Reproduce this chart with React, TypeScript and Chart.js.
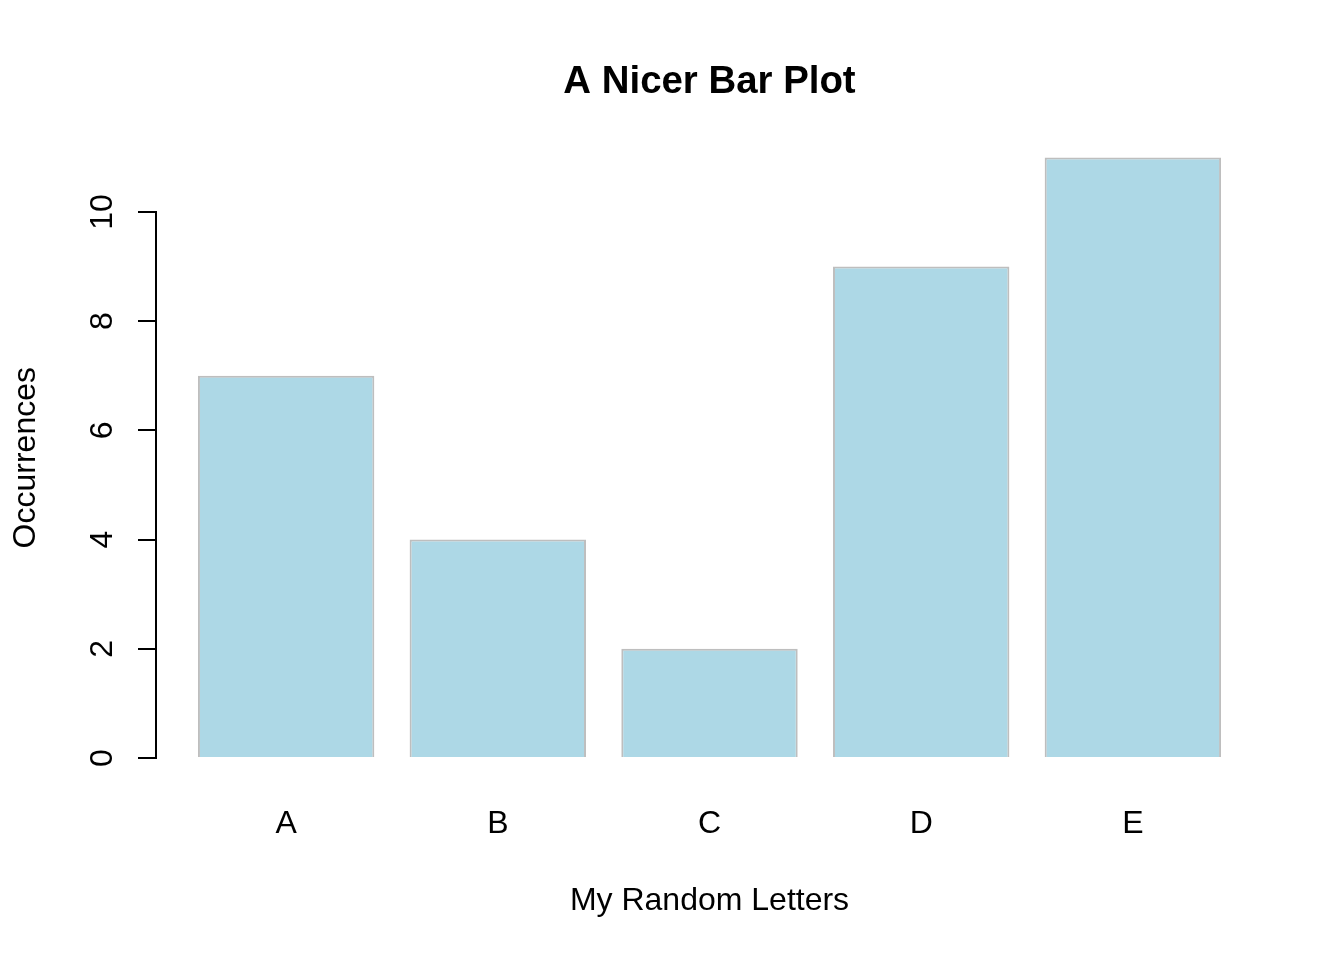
import React, { useEffect, useRef } from "react";
import { Chart, registerables } from "chart.js";

Chart.register(...registerables);

const chartTitle = "A Nicer Bar Plot";
const xAxisTitle = "My Random Letters";
const yAxisTitle = "Occurrences";
const categories = ["A", "B", "C", "D", "E"];
const occurrences = [7, 4, 2, 9, 11];
const yTickValues = [0, 2, 4, 6, 8, 10];

// R barplot layout: bar width 1, space 0.2, axes extended by 4%
const barWidth = 1;
const barSpace = 0.2;
const barCenters = categories.map((_, i) => barSpace + barWidth / 2 + i * (barWidth + barSpace));
const xLo = barSpace;
const xHi = barCenters[barCenters.length - 1] + barWidth / 2;
const xPad = (xHi - xLo) * 0.04;
const yLo = 0;
const yHi = Math.max(...occurrences);
const yPad = (yHi - yLo) * 0.04;

const FONT = "'Liberation Sans', Arial, sans-serif";

const rPlugin = {
  id: "rDecor",
  afterDraw(chart: any) {
    const { ctx, chartArea, scales } = chart;
    const y = scales.y;
    ctx.save();
    // main title
    ctx.fillStyle = "#000";
    ctx.font = `bold 38.4px ${FONT}`;
    ctx.textAlign = "center";
    ctx.textBaseline = "alphabetic";
    ctx.fillText(chartTitle, (chartArea.left + chartArea.right) / 2, chartArea.top - 40.5);
    // y axis line from first to last tick
    ctx.strokeStyle = "#000";
    ctx.lineWidth = 2;
    ctx.lineCap = "square";
    ctx.beginPath();
    const ax = Math.round(chartArea.left) - 1;
    ctx.moveTo(ax, y.getPixelForValue(yTickValues[0]));
    ctx.lineTo(ax, y.getPixelForValue(yTickValues[yTickValues.length - 1]));
    ctx.stroke();
    // rotated y tick labels
    ctx.font = `32px ${FONT}`;
    ctx.textAlign = "center";
    ctx.textBaseline = "alphabetic";
    yTickValues.forEach((v) => {
      ctx.save();
      ctx.translate(chartArea.left - 45, y.getPixelForValue(v));
      ctx.rotate(-Math.PI / 2);
      ctx.fillText(String(v), 0, 0);
      ctx.restore();
    });
    ctx.restore();
  },
};

export default function App() {
  const ref = useRef<HTMLCanvasElement | null>(null);
  useEffect(() => {
    if (!ref.current) return;
    const chart = new Chart(ref.current, {
      type: "bar",
      data: {
        datasets: [
          {
            data: categories.map((c, i) => ({ x: barCenters[i], y: occurrences[i] })),
            backgroundColor: "#ADD8E6",
            borderColor: "#BEBEBE",
            borderWidth: 2,
            categoryPercentage: 1,
            barPercentage: barWidth / (barWidth + barSpace),
          },
        ],
      },
      options: {
        animation: false,
        responsive: false,
        devicePixelRatio: 1,
        layout: { padding: { top: 133.4, right: 82, bottom: 0, left: 0 } },
        plugins: { legend: { display: false }, tooltip: { enabled: false }, title: { display: false } },
        scales: {
          x: {
            type: "linear",
            offset: false,
            min: xLo - xPad,
            max: xHi + xPad,
            grid: { display: false, drawTicks: false, offset: false },
            border: { display: false },
            afterBuildTicks: (s: any) => {
              s.ticks = barCenters.map((v) => ({ value: v }));
            },
            afterFit: (s: any) => {
              s.height = 178;
            },
            ticks: {
              autoSkip: false,
              maxRotation: 0,
              minRotation: 0,
              padding: 23,
              color: "#000",
              font: { family: FONT, size: 32 },
              callback: (_v: any, i: number) => categories[i],
            },
            title: {
              display: true,
              text: xAxisTitle,
              color: "#000",
              font: { family: FONT, size: 32 },
              padding: { top: 0, bottom: 40 },
            },
          },
          y: {
            type: "linear",
            min: yLo - yPad,
            max: yHi + yPad,
            afterBuildTicks: (s: any) => {
              s.ticks = yTickValues.map((v) => ({ value: v }));
            },
            afterFit: (s: any) => {
              s.width = 157;
            },
            grid: {
              display: true,
              drawOnChartArea: false,
              drawTicks: true,
              tickLength: 19,
              color: "#000",
              lineWidth: 2,
            },
            border: { display: false },
            ticks: { display: false },
            title: {
              display: true,
              text: yAxisTitle,
              color: "#000",
              font: { family: FONT, size: 32 },
              padding: { top: 7, bottom: 0 },
            },
          },
        },
      },
      plugins: [rPlugin],
    });
    return () => chart.destroy();
  }, []);
  return (
    <div style={{ position: "fixed", left: 0, top: 0, width: 1344, height: 960, background: "#fff" }}>
      <canvas ref={ref} width={1344} height={960} />
    </div>
  );
}
